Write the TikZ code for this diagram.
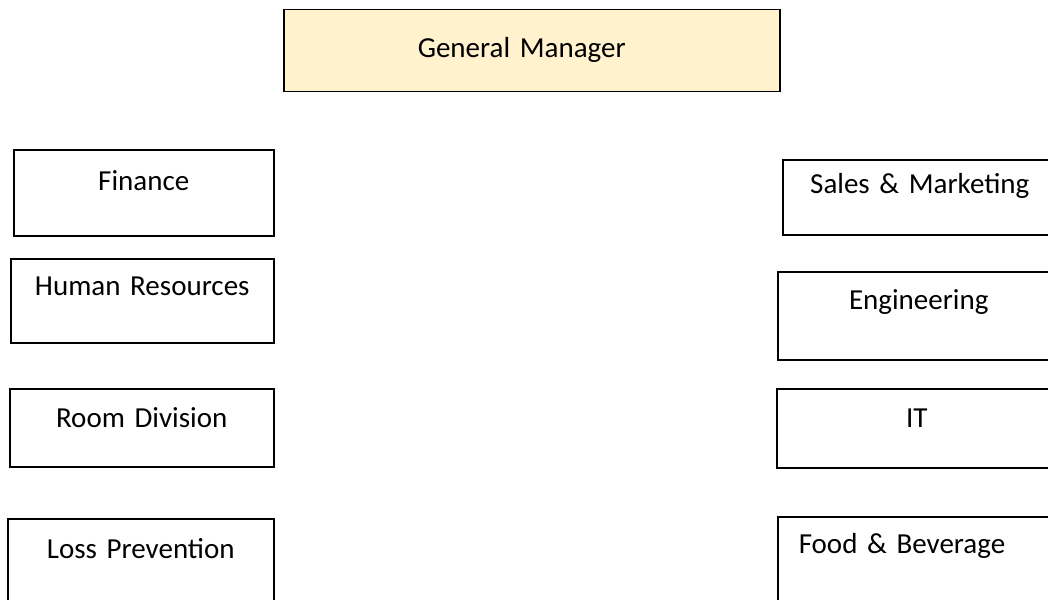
\documentclass[tikz,border=0pt]{standalone}
\usepackage{fontspec}
\setmainfont{Carlito}
\usepackage{xcolor}
\definecolor{gmGold}{RGB}{255,242,204}
\usepackage{tikz}
\usetikzlibrary{positioning}

\begin{document}
\begin{tikzpicture}[x=1pt,y=-1pt,
  d/.style={draw=black,line width=1.5pt,inner sep=0pt,anchor=north west,align=center,font=\fontsize{29}{35}\selectfont},
  g/.style={d,fill=gmGold}]
  \useasboundingbox (0,0) rectangle (1048,599);
  \clip (0,0) rectangle (1048,599);
  \node[g,align=left,inner xsep=134pt,text width=228pt,text height=48pt,text depth=34pt] (gm) at (283,9) {General Manager};

  % left column
  \node[d,text width=260pt,text height=41pt,text depth=45pt] (fin) at (13,149) {Finance};
  \node[d,text width=263pt,text height=37pt,text depth=47pt] (hr) at (10,258) {Human Resources};
  \node[d,text width=264pt,text height=39pt,text depth=39pt] (rd) at (9,388) {Room Division};
  \node[d,text width=266pt,text height=40pt,text depth=55pt] (lp) at (7,518) {Loss Prevention};

  % right column
  \node[d,text width=274pt,text height=34pt,text depth=41pt] (sm) at (782,159) {Sales \& Marketing};
  \node[d,text width=282pt,text height=38pt,text depth=50pt] (eng) at (777,271) {Engineering};
  \node[d,text width=280pt,text height=39pt,text depth=40pt] (it) at (776,388) {IT};
  \node[d,align=left,inner xsep=21pt,text width=238pt,text height=37pt,text depth=58pt] (fb) at (777,516) {Food \& Beverage};
\end{tikzpicture}
\end{document}
